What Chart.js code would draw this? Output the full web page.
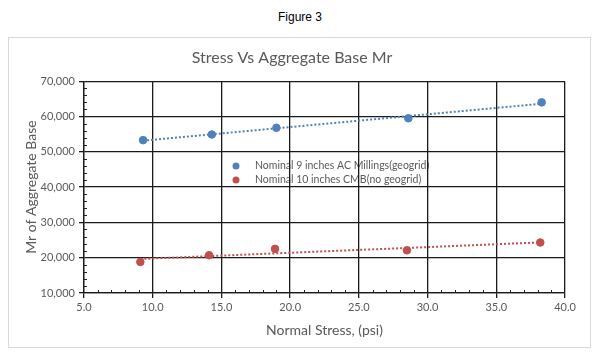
<!DOCTYPE html>
<html>
<head>
<meta charset="utf-8">
<script src="https://cdn.jsdelivr.net/npm/chart.js@4.4.1/dist/chart.umd.min.js"></script>
<style>
    body { margin: 0; background: #fff; width: 600px; height: 360px; position: relative; overflow: hidden; }
    #fig { position: absolute; top: 10px; left: 0; width: 600px; text-align: center; font: 12px "Liberation Sans", Arial, sans-serif; color: #000; }
    #box { position: absolute; left: 8px; top: 37px; width: 581px; height: 309px; border: 1px solid #d9d9d9; }
</style>
</head>
<body>
<div id="fig">Figure 3</div>
<div id="box"><canvas id="chart" width="581" height="309"></canvas></div>
<script>
// Data
const seriesNames = ['Nominal 9 inches AC Millings(geogrid)', 'Nominal 10 inches CMB(no geogrid)'];
const stress9 = [9.3, 14.3, 19.0, 28.6, 38.3];
const mr9 = [53300, 54900, 56800, 59500, 64000];
const stress10 = [9.1, 14.1, 18.9, 28.5, 38.2];
const mr10 = [18800, 20700, 22500, 22100, 24300];
const xTicks = [5, 10, 15, 20, 25, 30, 35, 40];
const yTicks = [10000, 20000, 30000, 40000, 50000, 60000, 70000];

const blue = '#4f81bd';
const red = '#c0504d';
const grey = '#595959';
const font = 'Lato, "Open Sans", sans-serif';

// linear trendline (least squares) from first to last x
function trend(xs, ys) {
    const n = xs.length;
    const mx = xs.reduce((a, b) => a + b, 0) / n;
    const my = ys.reduce((a, b) => a + b, 0) / n;
    let num = 0, den = 0;
    xs.forEach((x, i) => { num += (x - mx) * (ys[i] - my); den += (x - mx) * (x - mx); });
    const m = num / den, b = my - m * mx;
    const x0 = Math.min(...xs), x1 = Math.max(...xs);
    return [{ x: x0, y: m * x0 + b }, { x: x1, y: m * x1 + b }];
}

const pts = (xs, ys) => xs.map((x, i) => ({ x: x, y: ys[i] }));

// legend drawn inside the plot, under the grid like the original
const innerLegend = {
    id: 'innerLegend',
    beforeDraw(chart) {
        const ctx = chart.ctx;
        const x = 227, y0 = 128, gap = 14;
        ctx.save();
        ctx.font = '10.5px ' + font;
        ctx.textBaseline = 'middle';
        [blue, red].forEach((c, i) => {
            const y = y0 + i * gap;
            ctx.fillStyle = c;
            ctx.beginPath();
            ctx.arc(x, y, 3.5, 0, Math.PI * 2);
            ctx.fill();
            ctx.fillStyle = grey;
            ctx.fillText(seriesNames[i], x + 19, y);
        });
        ctx.restore();
    }
};

// small inside ticks between the major ones
const minorTicks = {
    id: 'minorTicks',
    afterDraw(chart) {
        const ctx = chart.ctx;
        const xs = chart.scales.x, ys = chart.scales.y;
        const a = chart.chartArea;
        ctx.save();
        ctx.strokeStyle = '#222';
        ctx.lineWidth = 1;
        ctx.beginPath();
        for (let v = 6; v < 40; v++) {
            if (v % 5 === 0) continue;
            const px = Math.round(xs.getPixelForValue(v)) + 0.5;
            ctx.moveTo(px, a.bottom);
            ctx.lineTo(px, a.bottom - 3);
        }
        for (let v = 12000; v < 70000; v += 2000) {
            if (v % 10000 === 0) continue;
            const py = Math.round(ys.getPixelForValue(v)) + 0.5;
            ctx.moveTo(a.left, py);
            ctx.lineTo(a.left + 3, py);
        }
        ctx.stroke();
        ctx.restore();
    }
};

new Chart(document.getElementById('chart'), {
    type: 'scatter',
    data: {
        datasets: [
            {
                label: seriesNames[0] + ' trend',
                type: 'line',
                data: trend(stress9, mr9),
                borderColor: blue,
                borderWidth: 2,
                borderDash: [2, 2],
                pointRadius: 0,
                fill: false
            },
            {
                label: seriesNames[1] + ' trend',
                type: 'line',
                data: trend(stress10, mr10),
                borderColor: red,
                borderWidth: 2,
                borderDash: [2, 2],
                pointRadius: 0,
                fill: false
            },
            {
                label: seriesNames[0],
                data: pts(stress9, mr9),
                backgroundColor: blue,
                borderColor: blue,
                pointRadius: 3.8
            },
            {
                label: seriesNames[1],
                data: pts(stress10, mr10),
                backgroundColor: red,
                borderColor: red,
                pointRadius: 3.8
            }
        ]
    },
    options: {
        responsive: false,
        animation: false,
        layout: { padding: { left: 10, right: 25, top: 0, bottom: 8 } },
        plugins: {
            legend: { display: false },
            tooltip: { enabled: false },
            title: {
                display: true,
                text: 'Stress Vs Aggregate Base Mr',
                color: grey,
                font: { family: font, size: 16, weight: 'normal' },
                padding: { top: 10, bottom: 14 }
            }
        },
        scales: {
            x: {
                type: 'linear',
                min: 5,
                max: 40,
                afterBuildTicks: s => { s.ticks = xTicks.map(v => ({ value: v })); },
                afterFit: s => { s.height = 46; },
                grid: { color: '#1a1a1a', lineWidth: 1.3, tickLength: 5, tickColor: '#1a1a1a' },
                border: { color: '#1a1a1a', width: 1.3 },
                ticks: {
                    color: grey,
                    padding: 3,
                    font: { family: font, size: 11 },
                    callback: v => v.toFixed(1)
                },
                title: {
                    display: true,
                    text: 'Normal Stress, (psi)',
                    color: grey,
                    font: { family: font, size: 14 },
                    padding: { top: 4, bottom: 0 }
                }
            },
            y: {
                min: 10000,
                max: 70000,
                afterBuildTicks: s => { s.ticks = yTicks.map(v => ({ value: v })); },
                afterFit: s => { s.width = 65; },
                grid: { color: '#1a1a1a', lineWidth: 1.3, tickLength: 5, tickColor: '#1a1a1a' },
                border: { color: '#1a1a1a', width: 1.3 },
                ticks: {
                    color: grey,
                    padding: 4,
                    font: { family: font, size: 11 },
                    callback: v => v.toLocaleString('en-US')
                },
                title: {
                    display: true,
                    text: 'Mr of Aggregate Base',
                    color: grey,
                    font: { family: font, size: 14 },
                    padding: { top: 4, bottom: 0 }
                }
            }
        }
    },
    plugins: [innerLegend, minorTicks]
});
</script>
</body>
</html>
